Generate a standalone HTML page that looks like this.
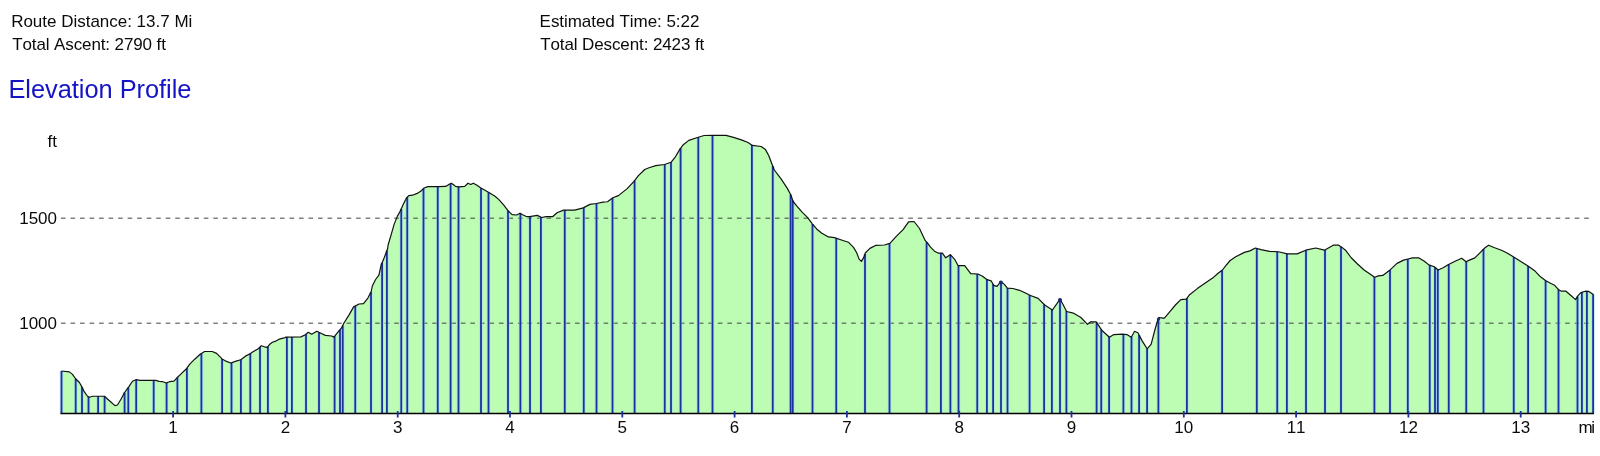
<!DOCTYPE html>
<html><head><meta charset="utf-8"><style>
html,body{margin:0;padding:0;background:#fff;width:1600px;height:456px;overflow:hidden}
svg{display:block;filter:blur(0.35px)}
text{font-family:"Liberation Sans",sans-serif;font-kerning:none}
</style></head><body>
<svg width="1600" height="456" viewBox="0 0 1600 456">
<g fill="#0a0a0a" font-size="17">
<text x="11.16" y="27" textLength="181.15">Route Distance: 13.7 Mi</text>
<text x="12.25" y="50.2" textLength="153.66">Total Ascent: 2790 ft</text>
<text x="539.59" y="27" textLength="159.82">Estimated Time: 5:22</text>
<text x="540.17" y="50.2" textLength="164.12">Total Descent: 2423 ft</text>
</g>
<text x="8.39" y="97.8" font-size="25.4" textLength="183.09" fill="#1414c6">Elevation Profile</text>
<path d="M61.5,413.5 L61.5,371 L69.4,371.9 L72.5,374.4 L75.6,378.75 L79.4,382.5 L81.9,386.9 L84.4,391.9 L87.5,396.25 L89.4,397.25 L92.5,396.25 L104.4,396.25 L110,401.25 L115,405.6 L117.5,405 L121.25,398.75 L124.4,392.75 L128.75,386.9 L132.5,381.25 L136,379.7 L139.9,380.4 L155.8,380.4 L159.1,381.4 L162.9,381.7 L166.2,383 L169.5,381.7 L173.9,381.1 L177.1,377.8 L182.1,372.9 L186.5,368.7 L189.8,364.1 L194.7,359.2 L200.2,354.25 L204.6,351.5 L212.2,351.5 L216.6,353.4 L222.1,358.9 L226.5,361.4 L230.9,363 L235.3,361.4 L240.75,359.7 L245.1,356.4 L250,353.7 L253,351.7 L258.7,348.5 L261.2,345.7 L264.4,346.8 L267.2,347.4 L270.1,343.9 L272.4,342.2 L275.8,341.1 L279.2,339.2 L283.2,338.2 L286,337.1 L300.9,336.9 L305.4,334.8 L308.3,332.3 L311.7,334.25 L316.8,331.2 L321.4,333.5 L325.4,335.4 L331.7,336 L333.9,337.1 L337.35,332.8 L341.9,327.4 L343.8,323.3 L349.25,314.6 L353.6,306.9 L359.1,304 L363.5,303.6 L367.9,298.1 L371.2,291.5 L372.3,286 L375.6,279.5 L378.9,275.1 L381.1,265.2 L384.3,257.5 L387.6,248.8 L388.1,245 L391.1,234.8 L394.2,224.1 L397.3,216.4 L400.3,211 L403.4,204.1 L406.5,198 L408.8,195.7 L412.6,195.2 L417.2,193.4 L421,191.1 L424.1,188 L427.9,186.6 L438.4,186.7 L445.7,186.4 L448.9,184.5 L451.3,183.2 L453.6,184.7 L455.5,186.4 L458.8,186.8 L464.7,186.4 L468,183.2 L470.7,184.5 L473.3,183.2 L476.6,185.1 L480.5,187.8 L485.8,190.8 L489.7,193 L495,196.3 L498.9,199.6 L503.6,204.9 L508.2,210.8 L512.1,214.7 L516.7,215 L520,213.2 L522.6,214.7 L525.9,216.3 L529.6,216.7 L537.3,215.4 L541.7,217.5 L546,216.7 L552.6,216.7 L557,212.7 L563.6,210.1 L574.6,210.1 L583.3,207.9 L589.9,204.4 L596.5,203.5 L603,202.2 L607.5,201.75 L612.9,197.8 L618.4,195.6 L627.2,188.6 L633.8,181.6 L638.2,175.9 L644.7,169.5 L649.1,167.8 L655.7,165.6 L664.5,164.5 L671,162.3 L675.4,156.8 L680,149.1 L683.3,144.7 L688.8,140.4 L697.5,137.5 L704.1,135.5 L712.9,135.3 L726,135.3 L732.6,137.1 L741.4,139.9 L748,142.5 L752.4,145.4 L761.1,146.5 L765.5,149.6 L768.8,155.7 L772.1,164.5 L774.3,170 L780.9,178.7 L787.5,188.6 L790.7,194.7 L793.1,201.5 L796.9,206.1 L802.3,212.3 L807.7,217.7 L812.3,223.8 L816.9,229.2 L821.5,233 L828.4,236.9 L834.5,237.6 L842.2,240.2 L848.4,242.2 L853.7,247.6 L856.8,253 L859.1,259.1 L861.4,261.4 L863.7,257.6 L865.3,253 L869.9,248.4 L876,245.3 L884.4,245 L889.9,243.4 L896.5,236.2 L903.1,229.6 L908.6,221.9 L914,221.5 L919.5,228.5 L925.3,240.7 L927.2,242.6 L930.5,247.2 L934.5,251.2 L938.4,253.2 L942.4,253.2 L945.7,257.8 L950.3,254.7 L954.9,259.7 L958.2,265.7 L964.7,265.7 L970.7,273.6 L977.9,274 L982.5,276.2 L987.1,279.7 L991.1,280.8 L993.7,285.4 L997,286.3 L1000.8,281.5 L1004.1,284.1 L1007.4,288.1 L1012.9,288.5 L1019.5,290.3 L1026,293.3 L1030.4,295.5 L1038.1,298.4 L1044.7,305 L1052.4,310 L1056.75,303.9 L1060,299 L1063.3,305 L1066.6,311.5 L1073.2,313.1 L1080.9,317.5 L1087.5,324.3 L1090.7,321.8 L1096.2,321.8 L1101.7,330.2 L1109.4,337.2 L1113.8,334.6 L1122.5,334.1 L1126.9,334.6 L1131.3,337.2 L1134.6,331.3 L1137.9,332.8 L1142.3,341.1 L1147.1,348.8 L1151.1,344.4 L1155.4,328 L1158.7,317.5 L1163.1,318.1 L1164.4,318.2 L1169.9,311.6 L1175.4,305 L1180.8,299.6 L1186.3,299.1 L1189.6,294.7 L1197.3,288.6 L1206,282.5 L1212.6,278.1 L1218.1,273.2 L1222.5,270 L1225.8,265.6 L1230.2,260.5 L1235.7,256.8 L1244.4,252.4 L1249.9,250.9 L1255.4,248 L1260.9,249.6 L1269.6,251.3 L1278.4,251.75 L1287.2,253.9 L1297.1,253.9 L1305.8,250.2 L1315.7,248 L1324.5,250.2 L1333.2,245.2 L1338.7,245.2 L1342,247.4 L1345.5,250.2 L1351,257.5 L1357.5,264 L1364.1,270 L1369.6,273.7 L1374.6,277.2 L1378.4,275.9 L1382.8,275.4 L1389.3,270.6 L1397,263.4 L1403.6,260.1 L1408,259 L1412.4,257.9 L1419,257.9 L1424.4,261.2 L1428.8,264.9 L1434.3,266.7 L1438.2,270 L1443.1,267.8 L1448.55,264.5 L1455.1,261.2 L1461.7,258.3 L1466.1,261.8 L1469.4,260.1 L1474.9,257.9 L1480.4,252.4 L1484.7,248 L1488.6,245.2 L1494,247.5 L1501.5,250.2 L1507.5,253.3 L1514.5,257.6 L1522,262.2 L1528.4,266.2 L1535.3,271.3 L1540.5,276.8 L1545.8,280.7 L1551,283.5 L1554.6,285.3 L1558.9,290 L1561.6,291.2 L1566,291.2 L1571.2,295.8 L1575.6,299.6 L1578.2,295.3 L1580.9,292.6 L1585.3,291.2 L1588.8,291.4 L1593.4,294.4 L1593.4,413.5 Z" fill="#bdfcb3"/>
<g stroke="#404040" stroke-opacity="0.66" stroke-width="1.4" stroke-dasharray="4.6 4.92">
<line x1="61" y1="218.3" x2="1593" y2="218.3"/>
<line x1="61" y1="323.2" x2="1593" y2="323.2"/>
</g>
<g stroke="#a4d4fc" stroke-width="3.6" stroke-opacity="0.6"><line x1="61.5" y1="413.5" x2="61.5" y2="371.0"/><line x1="75.7" y1="413.5" x2="75.7" y2="378.8"/><line x1="82" y1="413.5" x2="82" y2="387.1"/><line x1="88.5" y1="413.5" x2="88.5" y2="396.8"/><line x1="98.1" y1="413.5" x2="98.1" y2="396.2"/><line x1="104.6" y1="413.5" x2="104.6" y2="396.4"/><line x1="124.6" y1="413.5" x2="124.6" y2="392.5"/><line x1="128.3" y1="413.5" x2="128.3" y2="387.5"/><line x1="136.2" y1="413.5" x2="136.2" y2="379.7"/><line x1="153.7" y1="413.5" x2="153.7" y2="380.4"/><line x1="166.6" y1="413.5" x2="166.6" y2="382.8"/><line x1="177.4" y1="413.5" x2="177.4" y2="377.5"/><line x1="186.9" y1="413.5" x2="186.9" y2="368.1"/><line x1="201.4" y1="413.5" x2="201.4" y2="353.5"/><line x1="222.1" y1="413.5" x2="222.1" y2="358.9"/><line x1="231.5" y1="413.5" x2="231.5" y2="362.8"/><line x1="240.9" y1="413.5" x2="240.9" y2="359.6"/><line x1="250.3" y1="413.5" x2="250.3" y2="353.5"/><line x1="260" y1="413.5" x2="260" y2="347.0"/><line x1="267.9" y1="413.5" x2="267.9" y2="346.6"/><line x1="286.9" y1="413.5" x2="286.9" y2="337.1"/><line x1="291.9" y1="413.5" x2="291.9" y2="337.0"/><line x1="306" y1="413.5" x2="306" y2="334.3"/><line x1="319" y1="413.5" x2="319" y2="332.3"/><line x1="334.6" y1="413.5" x2="334.6" y2="336.2"/><line x1="340" y1="413.5" x2="340" y2="329.7"/><line x1="342.75" y1="413.5" x2="342.75" y2="325.6"/><line x1="355.25" y1="413.5" x2="355.25" y2="306.0"/><line x1="371" y1="413.5" x2="371" y2="291.9"/><line x1="382.1" y1="413.5" x2="382.1" y2="262.8"/><line x1="386.9" y1="413.5" x2="386.9" y2="250.6"/><line x1="401.25" y1="413.5" x2="401.25" y2="208.9"/><line x1="407.25" y1="413.5" x2="407.25" y2="197.2"/><line x1="423.5" y1="413.5" x2="423.5" y2="188.6"/><line x1="437.75" y1="413.5" x2="437.75" y2="186.7"/><line x1="450.6" y1="413.5" x2="450.6" y2="183.6"/><line x1="458.5" y1="413.5" x2="458.5" y2="186.8"/><line x1="481" y1="413.5" x2="481" y2="188.1"/><line x1="488.5" y1="413.5" x2="488.5" y2="192.3"/><line x1="508" y1="413.5" x2="508" y2="210.5"/><line x1="520.4" y1="413.5" x2="520.4" y2="213.4"/><line x1="530" y1="413.5" x2="530" y2="216.6"/><line x1="540.9" y1="413.5" x2="540.9" y2="217.1"/><line x1="564.75" y1="413.5" x2="564.75" y2="210.1"/><line x1="583.75" y1="413.5" x2="583.75" y2="207.7"/><line x1="596.5" y1="413.5" x2="596.5" y2="203.5"/><line x1="612.5" y1="413.5" x2="612.5" y2="198.1"/><line x1="634.6" y1="413.5" x2="634.6" y2="180.6"/><line x1="664.75" y1="413.5" x2="664.75" y2="164.4"/><line x1="671" y1="413.5" x2="671" y2="162.3"/><line x1="680.6" y1="413.5" x2="680.6" y2="148.3"/><line x1="698.3" y1="413.5" x2="698.3" y2="137.3"/><line x1="712.5" y1="413.5" x2="712.5" y2="135.3"/><line x1="751.9" y1="413.5" x2="751.9" y2="145.1"/><line x1="772.75" y1="413.5" x2="772.75" y2="166.1"/><line x1="790.6" y1="413.5" x2="790.6" y2="194.5"/><line x1="792.75" y1="413.5" x2="792.75" y2="200.5"/><line x1="812.5" y1="413.5" x2="812.5" y2="224.0"/><line x1="836.25" y1="413.5" x2="836.25" y2="238.2"/><line x1="865" y1="413.5" x2="865" y2="253.9"/><line x1="889.5" y1="413.5" x2="889.5" y2="243.5"/><line x1="926.6" y1="413.5" x2="926.6" y2="242.0"/><line x1="940.9" y1="413.5" x2="940.9" y2="253.2"/><line x1="950.4" y1="413.5" x2="950.4" y2="254.8"/><line x1="958.5" y1="413.5" x2="958.5" y2="265.7"/><line x1="977.25" y1="413.5" x2="977.25" y2="274.0"/><line x1="986.9" y1="413.5" x2="986.9" y2="279.5"/><line x1="993.1" y1="413.5" x2="993.1" y2="284.3"/><line x1="1001" y1="413.5" x2="1001" y2="281.7"/><line x1="1007.5" y1="413.5" x2="1007.5" y2="288.1"/><line x1="1029.6" y1="413.5" x2="1029.6" y2="295.1"/><line x1="1044.1" y1="413.5" x2="1044.1" y2="304.4"/><line x1="1051.9" y1="413.5" x2="1051.9" y2="309.7"/><line x1="1060" y1="413.5" x2="1060" y2="299.0"/><line x1="1066.4" y1="413.5" x2="1066.4" y2="311.1"/><line x1="1096.6" y1="413.5" x2="1096.6" y2="322.4"/><line x1="1101.25" y1="413.5" x2="1101.25" y2="329.5"/><line x1="1109.1" y1="413.5" x2="1109.1" y2="336.9"/><line x1="1123.4" y1="413.5" x2="1123.4" y2="334.2"/><line x1="1131.5" y1="413.5" x2="1131.5" y2="336.8"/><line x1="1139.1" y1="413.5" x2="1139.1" y2="335.1"/><line x1="1147.1" y1="413.5" x2="1147.1" y2="348.8"/><line x1="1158.4" y1="413.5" x2="1158.4" y2="318.5"/><line x1="1186.9" y1="413.5" x2="1186.9" y2="298.3"/><line x1="1222.1" y1="413.5" x2="1222.1" y2="270.3"/><line x1="1256.8" y1="413.5" x2="1256.8" y2="248.4"/><line x1="1277.25" y1="413.5" x2="1277.25" y2="251.7"/><line x1="1286.9" y1="413.5" x2="1286.9" y2="253.8"/><line x1="1306" y1="413.5" x2="1306" y2="250.2"/><line x1="1325" y1="413.5" x2="1325" y2="249.9"/><line x1="1341" y1="413.5" x2="1341" y2="246.7"/><line x1="1374.4" y1="413.5" x2="1374.4" y2="277.1"/><line x1="1390" y1="413.5" x2="1390" y2="269.9"/><line x1="1407.8" y1="413.5" x2="1407.8" y2="259.1"/><line x1="1429.75" y1="413.5" x2="1429.75" y2="265.2"/><line x1="1435" y1="413.5" x2="1435" y2="267.3"/><line x1="1437.8" y1="413.5" x2="1437.8" y2="269.7"/><line x1="1448.75" y1="413.5" x2="1448.75" y2="264.4"/><line x1="1466.25" y1="413.5" x2="1466.25" y2="261.7"/><line x1="1483.5" y1="413.5" x2="1483.5" y2="249.2"/><line x1="1513.75" y1="413.5" x2="1513.75" y2="257.1"/><line x1="1528.1" y1="413.5" x2="1528.1" y2="266.0"/><line x1="1545.6" y1="413.5" x2="1545.6" y2="280.6"/><line x1="1558.5" y1="413.5" x2="1558.5" y2="289.6"/><line x1="1577.5" y1="413.5" x2="1577.5" y2="296.5"/><line x1="1581.9" y1="413.5" x2="1581.9" y2="292.3"/><line x1="1586.9" y1="413.5" x2="1586.9" y2="291.3"/><line x1="1593.1" y1="413.5" x2="1593.1" y2="294.2"/></g>
<g stroke="#1b329c" stroke-width="1.8"><line x1="61.5" y1="413.5" x2="61.5" y2="371.0"/><line x1="75.7" y1="413.5" x2="75.7" y2="378.8"/><line x1="82" y1="413.5" x2="82" y2="387.1"/><line x1="88.5" y1="413.5" x2="88.5" y2="396.8"/><line x1="98.1" y1="413.5" x2="98.1" y2="396.2"/><line x1="104.6" y1="413.5" x2="104.6" y2="396.4"/><line x1="124.6" y1="413.5" x2="124.6" y2="392.5"/><line x1="128.3" y1="413.5" x2="128.3" y2="387.5"/><line x1="136.2" y1="413.5" x2="136.2" y2="379.7"/><line x1="153.7" y1="413.5" x2="153.7" y2="380.4"/><line x1="166.6" y1="413.5" x2="166.6" y2="382.8"/><line x1="177.4" y1="413.5" x2="177.4" y2="377.5"/><line x1="186.9" y1="413.5" x2="186.9" y2="368.1"/><line x1="201.4" y1="413.5" x2="201.4" y2="353.5"/><line x1="222.1" y1="413.5" x2="222.1" y2="358.9"/><line x1="231.5" y1="413.5" x2="231.5" y2="362.8"/><line x1="240.9" y1="413.5" x2="240.9" y2="359.6"/><line x1="250.3" y1="413.5" x2="250.3" y2="353.5"/><line x1="260" y1="413.5" x2="260" y2="347.0"/><line x1="267.9" y1="413.5" x2="267.9" y2="346.6"/><line x1="286.9" y1="413.5" x2="286.9" y2="337.1"/><line x1="291.9" y1="413.5" x2="291.9" y2="337.0"/><line x1="306" y1="413.5" x2="306" y2="334.3"/><line x1="319" y1="413.5" x2="319" y2="332.3"/><line x1="334.6" y1="413.5" x2="334.6" y2="336.2"/><line x1="340" y1="413.5" x2="340" y2="329.7"/><line x1="342.75" y1="413.5" x2="342.75" y2="325.6"/><line x1="355.25" y1="413.5" x2="355.25" y2="306.0"/><line x1="371" y1="413.5" x2="371" y2="291.9"/><line x1="382.1" y1="413.5" x2="382.1" y2="262.8"/><line x1="386.9" y1="413.5" x2="386.9" y2="250.6"/><line x1="401.25" y1="413.5" x2="401.25" y2="208.9"/><line x1="407.25" y1="413.5" x2="407.25" y2="197.2"/><line x1="423.5" y1="413.5" x2="423.5" y2="188.6"/><line x1="437.75" y1="413.5" x2="437.75" y2="186.7"/><line x1="450.6" y1="413.5" x2="450.6" y2="183.6"/><line x1="458.5" y1="413.5" x2="458.5" y2="186.8"/><line x1="481" y1="413.5" x2="481" y2="188.1"/><line x1="488.5" y1="413.5" x2="488.5" y2="192.3"/><line x1="508" y1="413.5" x2="508" y2="210.5"/><line x1="520.4" y1="413.5" x2="520.4" y2="213.4"/><line x1="530" y1="413.5" x2="530" y2="216.6"/><line x1="540.9" y1="413.5" x2="540.9" y2="217.1"/><line x1="564.75" y1="413.5" x2="564.75" y2="210.1"/><line x1="583.75" y1="413.5" x2="583.75" y2="207.7"/><line x1="596.5" y1="413.5" x2="596.5" y2="203.5"/><line x1="612.5" y1="413.5" x2="612.5" y2="198.1"/><line x1="634.6" y1="413.5" x2="634.6" y2="180.6"/><line x1="664.75" y1="413.5" x2="664.75" y2="164.4"/><line x1="671" y1="413.5" x2="671" y2="162.3"/><line x1="680.6" y1="413.5" x2="680.6" y2="148.3"/><line x1="698.3" y1="413.5" x2="698.3" y2="137.3"/><line x1="712.5" y1="413.5" x2="712.5" y2="135.3"/><line x1="751.9" y1="413.5" x2="751.9" y2="145.1"/><line x1="772.75" y1="413.5" x2="772.75" y2="166.1"/><line x1="790.6" y1="413.5" x2="790.6" y2="194.5"/><line x1="792.75" y1="413.5" x2="792.75" y2="200.5"/><line x1="812.5" y1="413.5" x2="812.5" y2="224.0"/><line x1="836.25" y1="413.5" x2="836.25" y2="238.2"/><line x1="865" y1="413.5" x2="865" y2="253.9"/><line x1="889.5" y1="413.5" x2="889.5" y2="243.5"/><line x1="926.6" y1="413.5" x2="926.6" y2="242.0"/><line x1="940.9" y1="413.5" x2="940.9" y2="253.2"/><line x1="950.4" y1="413.5" x2="950.4" y2="254.8"/><line x1="958.5" y1="413.5" x2="958.5" y2="265.7"/><line x1="977.25" y1="413.5" x2="977.25" y2="274.0"/><line x1="986.9" y1="413.5" x2="986.9" y2="279.5"/><line x1="993.1" y1="413.5" x2="993.1" y2="284.3"/><line x1="1001" y1="413.5" x2="1001" y2="281.7"/><line x1="1007.5" y1="413.5" x2="1007.5" y2="288.1"/><line x1="1029.6" y1="413.5" x2="1029.6" y2="295.1"/><line x1="1044.1" y1="413.5" x2="1044.1" y2="304.4"/><line x1="1051.9" y1="413.5" x2="1051.9" y2="309.7"/><line x1="1060" y1="413.5" x2="1060" y2="299.0"/><line x1="1066.4" y1="413.5" x2="1066.4" y2="311.1"/><line x1="1096.6" y1="413.5" x2="1096.6" y2="322.4"/><line x1="1101.25" y1="413.5" x2="1101.25" y2="329.5"/><line x1="1109.1" y1="413.5" x2="1109.1" y2="336.9"/><line x1="1123.4" y1="413.5" x2="1123.4" y2="334.2"/><line x1="1131.5" y1="413.5" x2="1131.5" y2="336.8"/><line x1="1139.1" y1="413.5" x2="1139.1" y2="335.1"/><line x1="1147.1" y1="413.5" x2="1147.1" y2="348.8"/><line x1="1158.4" y1="413.5" x2="1158.4" y2="318.5"/><line x1="1186.9" y1="413.5" x2="1186.9" y2="298.3"/><line x1="1222.1" y1="413.5" x2="1222.1" y2="270.3"/><line x1="1256.8" y1="413.5" x2="1256.8" y2="248.4"/><line x1="1277.25" y1="413.5" x2="1277.25" y2="251.7"/><line x1="1286.9" y1="413.5" x2="1286.9" y2="253.8"/><line x1="1306" y1="413.5" x2="1306" y2="250.2"/><line x1="1325" y1="413.5" x2="1325" y2="249.9"/><line x1="1341" y1="413.5" x2="1341" y2="246.7"/><line x1="1374.4" y1="413.5" x2="1374.4" y2="277.1"/><line x1="1390" y1="413.5" x2="1390" y2="269.9"/><line x1="1407.8" y1="413.5" x2="1407.8" y2="259.1"/><line x1="1429.75" y1="413.5" x2="1429.75" y2="265.2"/><line x1="1435" y1="413.5" x2="1435" y2="267.3"/><line x1="1437.8" y1="413.5" x2="1437.8" y2="269.7"/><line x1="1448.75" y1="413.5" x2="1448.75" y2="264.4"/><line x1="1466.25" y1="413.5" x2="1466.25" y2="261.7"/><line x1="1483.5" y1="413.5" x2="1483.5" y2="249.2"/><line x1="1513.75" y1="413.5" x2="1513.75" y2="257.1"/><line x1="1528.1" y1="413.5" x2="1528.1" y2="266.0"/><line x1="1545.6" y1="413.5" x2="1545.6" y2="280.6"/><line x1="1558.5" y1="413.5" x2="1558.5" y2="289.6"/><line x1="1577.5" y1="413.5" x2="1577.5" y2="296.5"/><line x1="1581.9" y1="413.5" x2="1581.9" y2="292.3"/><line x1="1586.9" y1="413.5" x2="1586.9" y2="291.3"/><line x1="1593.1" y1="413.5" x2="1593.1" y2="294.2"/></g>
<path d="M61.5,371 L69.4,371.9 L72.5,374.4 L75.6,378.75 L79.4,382.5 L81.9,386.9 L84.4,391.9 L87.5,396.25 L89.4,397.25 L92.5,396.25 L104.4,396.25 L110,401.25 L115,405.6 L117.5,405 L121.25,398.75 L124.4,392.75 L128.75,386.9 L132.5,381.25 L136,379.7 L139.9,380.4 L155.8,380.4 L159.1,381.4 L162.9,381.7 L166.2,383 L169.5,381.7 L173.9,381.1 L177.1,377.8 L182.1,372.9 L186.5,368.7 L189.8,364.1 L194.7,359.2 L200.2,354.25 L204.6,351.5 L212.2,351.5 L216.6,353.4 L222.1,358.9 L226.5,361.4 L230.9,363 L235.3,361.4 L240.75,359.7 L245.1,356.4 L250,353.7 L253,351.7 L258.7,348.5 L261.2,345.7 L264.4,346.8 L267.2,347.4 L270.1,343.9 L272.4,342.2 L275.8,341.1 L279.2,339.2 L283.2,338.2 L286,337.1 L300.9,336.9 L305.4,334.8 L308.3,332.3 L311.7,334.25 L316.8,331.2 L321.4,333.5 L325.4,335.4 L331.7,336 L333.9,337.1 L337.35,332.8 L341.9,327.4 L343.8,323.3 L349.25,314.6 L353.6,306.9 L359.1,304 L363.5,303.6 L367.9,298.1 L371.2,291.5 L372.3,286 L375.6,279.5 L378.9,275.1 L381.1,265.2 L384.3,257.5 L387.6,248.8 L388.1,245 L391.1,234.8 L394.2,224.1 L397.3,216.4 L400.3,211 L403.4,204.1 L406.5,198 L408.8,195.7 L412.6,195.2 L417.2,193.4 L421,191.1 L424.1,188 L427.9,186.6 L438.4,186.7 L445.7,186.4 L448.9,184.5 L451.3,183.2 L453.6,184.7 L455.5,186.4 L458.8,186.8 L464.7,186.4 L468,183.2 L470.7,184.5 L473.3,183.2 L476.6,185.1 L480.5,187.8 L485.8,190.8 L489.7,193 L495,196.3 L498.9,199.6 L503.6,204.9 L508.2,210.8 L512.1,214.7 L516.7,215 L520,213.2 L522.6,214.7 L525.9,216.3 L529.6,216.7 L537.3,215.4 L541.7,217.5 L546,216.7 L552.6,216.7 L557,212.7 L563.6,210.1 L574.6,210.1 L583.3,207.9 L589.9,204.4 L596.5,203.5 L603,202.2 L607.5,201.75 L612.9,197.8 L618.4,195.6 L627.2,188.6 L633.8,181.6 L638.2,175.9 L644.7,169.5 L649.1,167.8 L655.7,165.6 L664.5,164.5 L671,162.3 L675.4,156.8 L680,149.1 L683.3,144.7 L688.8,140.4 L697.5,137.5 L704.1,135.5 L712.9,135.3 L726,135.3 L732.6,137.1 L741.4,139.9 L748,142.5 L752.4,145.4 L761.1,146.5 L765.5,149.6 L768.8,155.7 L772.1,164.5 L774.3,170 L780.9,178.7 L787.5,188.6 L790.7,194.7 L793.1,201.5 L796.9,206.1 L802.3,212.3 L807.7,217.7 L812.3,223.8 L816.9,229.2 L821.5,233 L828.4,236.9 L834.5,237.6 L842.2,240.2 L848.4,242.2 L853.7,247.6 L856.8,253 L859.1,259.1 L861.4,261.4 L863.7,257.6 L865.3,253 L869.9,248.4 L876,245.3 L884.4,245 L889.9,243.4 L896.5,236.2 L903.1,229.6 L908.6,221.9 L914,221.5 L919.5,228.5 L925.3,240.7 L927.2,242.6 L930.5,247.2 L934.5,251.2 L938.4,253.2 L942.4,253.2 L945.7,257.8 L950.3,254.7 L954.9,259.7 L958.2,265.7 L964.7,265.7 L970.7,273.6 L977.9,274 L982.5,276.2 L987.1,279.7 L991.1,280.8 L993.7,285.4 L997,286.3 L1000.8,281.5 L1004.1,284.1 L1007.4,288.1 L1012.9,288.5 L1019.5,290.3 L1026,293.3 L1030.4,295.5 L1038.1,298.4 L1044.7,305 L1052.4,310 L1056.75,303.9 L1060,299 L1063.3,305 L1066.6,311.5 L1073.2,313.1 L1080.9,317.5 L1087.5,324.3 L1090.7,321.8 L1096.2,321.8 L1101.7,330.2 L1109.4,337.2 L1113.8,334.6 L1122.5,334.1 L1126.9,334.6 L1131.3,337.2 L1134.6,331.3 L1137.9,332.8 L1142.3,341.1 L1147.1,348.8 L1151.1,344.4 L1155.4,328 L1158.7,317.5 L1163.1,318.1 L1164.4,318.2 L1169.9,311.6 L1175.4,305 L1180.8,299.6 L1186.3,299.1 L1189.6,294.7 L1197.3,288.6 L1206,282.5 L1212.6,278.1 L1218.1,273.2 L1222.5,270 L1225.8,265.6 L1230.2,260.5 L1235.7,256.8 L1244.4,252.4 L1249.9,250.9 L1255.4,248 L1260.9,249.6 L1269.6,251.3 L1278.4,251.75 L1287.2,253.9 L1297.1,253.9 L1305.8,250.2 L1315.7,248 L1324.5,250.2 L1333.2,245.2 L1338.7,245.2 L1342,247.4 L1345.5,250.2 L1351,257.5 L1357.5,264 L1364.1,270 L1369.6,273.7 L1374.6,277.2 L1378.4,275.9 L1382.8,275.4 L1389.3,270.6 L1397,263.4 L1403.6,260.1 L1408,259 L1412.4,257.9 L1419,257.9 L1424.4,261.2 L1428.8,264.9 L1434.3,266.7 L1438.2,270 L1443.1,267.8 L1448.55,264.5 L1455.1,261.2 L1461.7,258.3 L1466.1,261.8 L1469.4,260.1 L1474.9,257.9 L1480.4,252.4 L1484.7,248 L1488.6,245.2 L1494,247.5 L1501.5,250.2 L1507.5,253.3 L1514.5,257.6 L1522,262.2 L1528.4,266.2 L1535.3,271.3 L1540.5,276.8 L1545.8,280.7 L1551,283.5 L1554.6,285.3 L1558.9,290 L1561.6,291.2 L1566,291.2 L1571.2,295.8 L1575.6,299.6 L1578.2,295.3 L1580.9,292.6 L1585.3,291.2 L1588.8,291.4 L1593.4,294.4" fill="none" stroke="#111" stroke-width="1.2" stroke-linejoin="round"/>
<g fill="#1a2a78"><circle cx="1000.9" cy="282.6" r="2"/><circle cx="1060" cy="300" r="2"/><circle cx="1158.5" cy="319" r="1.6"/></g>
<line x1="60.5" y1="413.5" x2="1594" y2="413.5" stroke="#000" stroke-width="1.7"/>
<g stroke="#1b329c" stroke-width="1.8"><line x1="173.1" y1="411" x2="173.1" y2="417.5"/><line x1="285.4" y1="411" x2="285.4" y2="417.5"/><line x1="397.7" y1="411" x2="397.7" y2="417.5"/><line x1="510.0" y1="411" x2="510.0" y2="417.5"/><line x1="622.3" y1="411" x2="622.3" y2="417.5"/><line x1="734.6" y1="411" x2="734.6" y2="417.5"/><line x1="846.9" y1="411" x2="846.9" y2="417.5"/><line x1="959.2" y1="411" x2="959.2" y2="417.5"/><line x1="1071.5" y1="411" x2="1071.5" y2="417.5"/><line x1="1183.8" y1="411" x2="1183.8" y2="417.5"/><line x1="1296.1" y1="411" x2="1296.1" y2="417.5"/><line x1="1408.4" y1="411" x2="1408.4" y2="417.5"/><line x1="1520.7" y1="411" x2="1520.7" y2="417.5"/></g>
<g fill="#0a0a0a" font-size="17">
<text x="57" y="224" text-anchor="end">1500</text>
<text x="57" y="328.5" text-anchor="end">1000</text>
<text x="47.5" y="147">ft</text>
<text x="173.1" y="433.4" text-anchor="middle">1</text><text x="285.4" y="433.4" text-anchor="middle">2</text><text x="397.7" y="433.4" text-anchor="middle">3</text><text x="510.0" y="433.4" text-anchor="middle">4</text><text x="622.3" y="433.4" text-anchor="middle">5</text><text x="734.6" y="433.4" text-anchor="middle">6</text><text x="846.9" y="433.4" text-anchor="middle">7</text><text x="959.2" y="433.4" text-anchor="middle">8</text><text x="1071.5" y="433.4" text-anchor="middle">9</text><text x="1183.8" y="433.4" text-anchor="middle">10</text><text x="1296.1" y="433.4" text-anchor="middle">11</text><text x="1408.4" y="433.4" text-anchor="middle">12</text><text x="1520.7" y="433.4" text-anchor="middle">13</text>
<text x="1578.4" y="433.4" textLength="16.6">mi</text>
</g>
</svg>
</body></html>
